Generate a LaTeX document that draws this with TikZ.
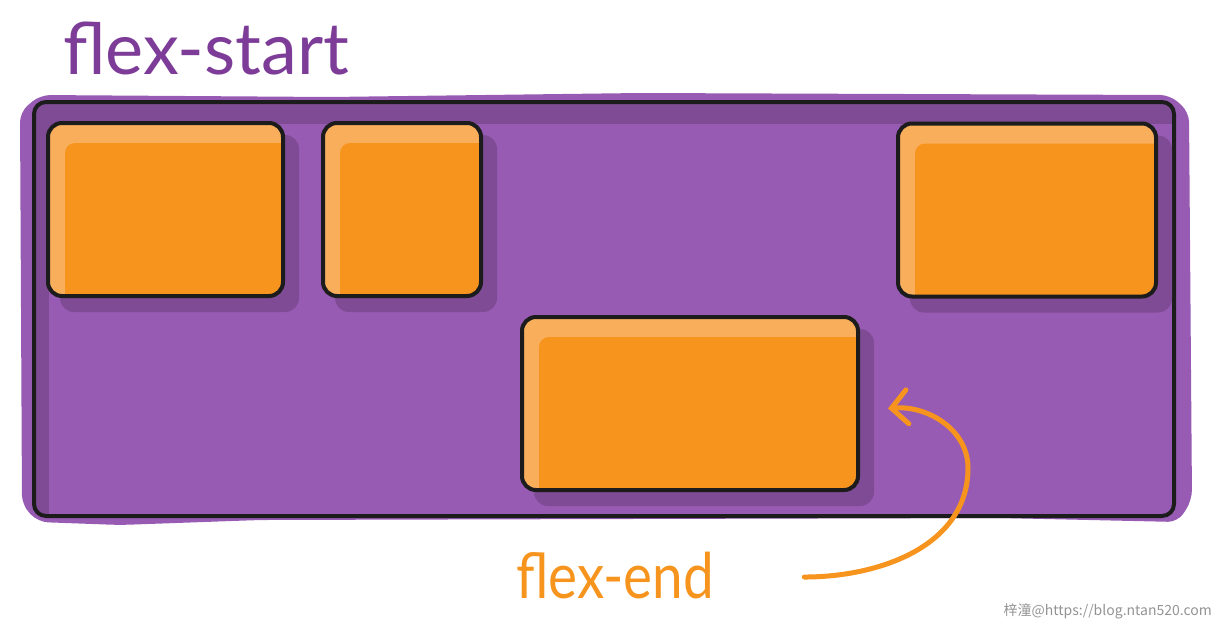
\documentclass[tikz,border=0pt]{standalone}
\usepackage{fontspec}
\setmainfont{Lato}
\newfontfamily\narrowfont[FakeStretch=0.87]{Lato}
\newfontfamily\cjkfont{Noto Sans CJK SC}
\usetikzlibrary{arrows.meta,calc,positioning}
\definecolor{boxorange}{HTML}{F7941E}
\definecolor{lightorange}{HTML}{F9AE5B}
\definecolor{boxpurple}{HTML}{975BB3}
\definecolor{shadepurple}{HTML}{7E4B94}
\definecolor{titlepurple}{HTML}{7D3C98}
\definecolor{inkblack}{HTML}{1C1C1C}
\pgfdeclarelayer{back}
\pgfdeclarelayer{shade}
\pgfsetlayers{back,shade,main}

\begin{document}
\begin{tikzpicture}[x=1pt,y=-1pt,node distance=36pt]
\tikzstyle{container}=[draw=inkblack,line width=4pt,rounded corners=12pt,fill=shadepurple,inner sep=0pt,
  minimum width=1140pt,minimum height=414pt,
  path picture={\fill[boxpurple,rounded corners=8pt] ($(path picture bounding box.north west)+(15pt,-22pt)$) rectangle ($(path picture bounding box.south east)+(10pt,-10pt)$);}]
\tikzstyle{item}=[draw=inkblack,line width=4pt,rounded corners=14pt,fill=lightorange,inner sep=0pt,minimum height=173pt,
  path picture={\fill[boxorange,rounded corners=10pt] ($(path picture bounding box.north west)+(17pt,-20pt)$) rectangle ($(path picture bounding box.south east)+(10pt,-10pt)$);}]
\tikzstyle{hand}=[inner sep=0pt]
\tikzstyle{pointer}=[boxorange,line width=5pt,line cap=round,-{Straight Barb[length=16pt,width=34pt,line cap=round]}]

\useasboundingbox (0,0) rectangle (1216,627);

\begin{pgfonlayer}{back}
\fill[boxpurple,rounded corners=10pt] (20,112) -- (40,95) -- (330,97) -- (640,93) -- (1170,95) -- (1189,112)
  -- (1192,500) -- (1178,522) -- (1000,518) -- (260,520) -- (120,525) -- (38,522) -- (22,505) -- cycle;
\node[container] (flexbox) at (604,309) {};
\end{pgfonlayer}

\node[item,minimum width=235pt] (item1) at (165.5,209.5) {};
\node[item,minimum width=158pt,right=36pt of item1] (item2) {};
\node[item,minimum width=258pt] (item3) at (1027,210) {};
\node[item,minimum width=336pt] (item4) at (690,403.5) {};

\begin{pgfonlayer}{shade}
\foreach \b in {item1,item2,item3,item4}
  \fill[shadepurple,rounded corners=14pt] ($(\b.north west)+(14,14)$) rectangle ($(\b.south east)+(14,14)$);
\end{pgfonlayer}

\node[hand,text=titlepurple,anchor=base west,font=\fontsize{72}{76}\selectfont] (startlbl) at (63,74) {flex-start};
\node[hand,text=boxorange,anchor=base west,font=\narrowfont\fontsize{63}{68}\selectfont] (endlbl) at (516,598) {flex-end};

\coordinate (tail) at ($(endlbl.east)+(90,2)$);
\coordinate (bend) at (968,468);
\coordinate (tip) at ($(item4.east)+(28,5)$);
\draw[pointer] (tail) to[out=0,in=-90] (bend) to[out=90,in=5] (tip);

\node[anchor=south east,inner sep=0pt,text=gray!85,font=\cjkfont\fontsize{14}{16}\selectfont] (mark) at (1212,619) {梓潼@https://blog.ntan520.com};
\end{tikzpicture}
\end{document}
